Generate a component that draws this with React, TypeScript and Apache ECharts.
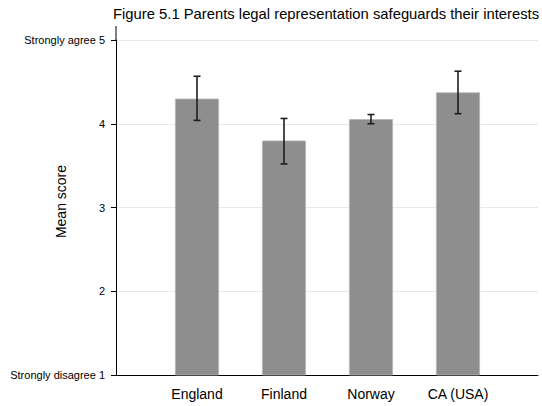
import React, { useEffect, useRef } from "react";
import * as echarts from "echarts";

const categories = ["England", "Finland", "Norway", "CA (USA)"];
const meanScores = [4.3, 3.8, 4.055, 4.375];
const ciLow = [4.04, 3.52, 4.0, 4.12];
const ciHigh = [4.567, 4.063, 4.11, 4.627];
const yTickLabels: Record<number, string> = {
  1: "Strongly disagree 1",
  2: "2",
  3: "3",
  4: "4",
  5: "Strongly agree 5",
};
const titleText = "Figure 5.1 Parents legal representation safeguards their interests";
const yAxisTitle = "Mean score";

const FONT = "'Liberation Sans', Arial, Helvetica, sans-serif";

export default function App() {
  const ref = useRef<HTMLDivElement>(null);
  useEffect(() => {
    if (!ref.current) return;
    const chart = echarts.init(ref.current, undefined, { renderer: "svg" });
    const top = 40;
    const bottom = 31;
    const option: any = {
      animation: false,
      backgroundColor: "#ffffff",
      textStyle: { fontFamily: FONT },
      title: {
        text: titleText,
        left: 113,
        top: 6,
        padding: 0,
        textStyle: { fontFamily: FONT, fontSize: 14.8, fontWeight: "normal", color: "#000" },
      },
      grid: [
        { left: 116, right: 4, top, bottom, containLabel: false, outerBoundsMode: "none" },
        { left: 153.5, right: 40.5, top, bottom, containLabel: false, outerBoundsMode: "none" },
      ],
      xAxis: [
        {
          gridIndex: 0,
          type: "value",
          min: 0,
          max: 1,
          axisLine: { show: true, lineStyle: { color: "#000", width: 1 } },
          axisTick: { show: false },
          axisLabel: { show: false },
          splitLine: { show: false },
        },
        {
          gridIndex: 1,
          type: "category",
          data: categories,
          axisLine: { show: false },
          axisTick: { show: false },
          axisLabel: {
            show: true,
            color: "#000",
            fontSize: 14,
            fontFamily: FONT,
            margin: 12,
            interval: 0,
          },
          splitLine: { show: false },
        },
      ],
      yAxis: [
        {
          gridIndex: 0,
          type: "value",
          min: 1,
          max: 5,
          interval: 1,
          name: yAxisTitle,
          nameLocation: "middle",
          nameGap: 48,
          nameMoveOverlap: false,
          nameTextStyle: { fontFamily: FONT, fontSize: 14, color: "#000", padding: [0, 0, 0, 12] },
          axisLine: { show: true, lineStyle: { color: "#000", width: 1 } },
          axisTick: { show: true, length: 5, lineStyle: { color: "#000" } },
          axisLabel: {
            color: "#000",
            fontSize: 11,
            fontFamily: FONT,
            margin: 11,
            formatter: (v: number) => yTickLabels[v] ?? String(v),
          },
          splitLine: { show: true, lineStyle: { color: "#e8e8e8", width: 1 } },
        },
        {
          gridIndex: 1,
          type: "value",
          min: 1,
          max: 5,
          interval: 1,
          show: false,
          splitLine: { show: false },
        },
      ],
      series: [
        {
          type: "bar",
          xAxisIndex: 1,
          yAxisIndex: 1,
          data: meanScores,
          barWidth: 44,
          itemStyle: { color: "#8e8e8e", borderColor: "#b5b5b5", borderWidth: 0.8 },
          z: 2,
        },
        {
          type: "custom",
          xAxisIndex: 1,
          yAxisIndex: 1,
          z: 5,
          data: categories.map((_, i) => [i, ciLow[i], ciHigh[i]]),
          renderItem: (params: any, api: any) => {
            const x = api.value(0);
            const lo = api.coord([x, api.value(1)]);
            const hi = api.coord([x, api.value(2)]);
            const half = 3.5;
            const style = { stroke: "#1e1e1e", lineWidth: 1.6 };
            return {
              type: "group",
              children: [
                { type: "line", shape: { x1: lo[0], y1: lo[1], x2: hi[0], y2: hi[1] }, style },
                { type: "line", shape: { x1: hi[0] - half, y1: hi[1], x2: hi[0] + half, y2: hi[1] }, style },
                { type: "line", shape: { x1: lo[0] - half, y1: lo[1], x2: lo[0] + half, y2: lo[1] }, style },
              ],
            };
          },
        },
      ],
      graphic: [
        {
          type: "line",
          shape: { x1: 116, y1: 26, x2: 116, y2: top },
          style: { stroke: "#000", lineWidth: 1 },
        },
      ],
    };
    chart.setOption(option);
    return () => chart.dispose();
  }, []);
  return (
    <div
      ref={ref}
      style={{ position: "fixed", left: 0, top: 0, width: 542, height: 406 }}
    />
  );
}
